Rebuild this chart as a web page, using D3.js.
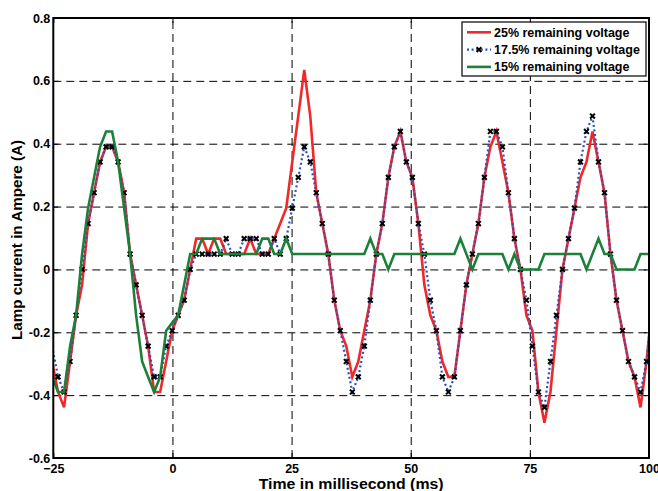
<!DOCTYPE html>
<html>
<head>
<meta charset="utf-8">
<script src="https://cdn.jsdelivr.net/npm/d3@7"></script>
<style>
  body { margin: 0; background: #fff; }
  svg text { font-family: "Liberation Sans", Arial, Helvetica, sans-serif; font-weight: bold; fill: #000; }
</style>
</head>
<body>
<svg id="chart" width="658" height="491"></svg>
<script>
// sample instants (ms) of the recorded waveforms
const timeMs = [-25.26, -24, -22.74, -21.48, -20.22, -18.96, -17.7, -16.44, -15.18, -13.92, -12.66,
  -11.4, -10.14, -8.88, -7.62, -6.36, -5.1, -3.84, -2.58, -1.32, -0.06,
  1.2, 2.46, 3.72, 4.98, 6.24, 7.5, 8.76, 10.02, 11.28, 12.54,
  13.8, 15.06, 16.32, 17.58, 18.84, 20.1, 21.36, 22.62, 23.88, 25.14,
  26.4, 27.66, 28.92, 30.18, 31.44, 32.7, 33.96, 35.22, 36.48, 37.74,
  39, 40.26, 41.52, 42.78, 44.04, 45.3, 46.56, 47.82, 49.08, 50.34,
  51.6, 52.86, 54.12, 55.38, 56.64, 57.9, 59.16, 60.42, 61.68, 62.94,
  64.2, 65.46, 66.72, 67.98, 69.24, 70.5, 71.76, 73.02, 74.28, 75.54,
  76.8, 78.06, 79.32, 80.58, 81.84, 83.1, 84.36, 85.62, 86.88, 88.14,
  89.4, 90.66, 91.92, 93.18, 94.44, 95.7, 96.96, 98.22, 99.48, 100.74];

const seriesNames = ["25% remaining voltage", "17.5% remaining voltage", "15% remaining voltage"];

const current25 = [-0.293, -0.39, -0.439, -0.293, -0.146, -0.049, 0.146, 0.244, 0.342, 0.39, 0.39,
  0.342, 0.244, 0.049, -0.049, -0.146, -0.244, -0.39, -0.39, -0.293, -0.195,
  -0.146, -0.098, 0, 0.098, 0.098, 0.049, 0.098, 0.098, 0.049, 0.049,
  0.049, 0.049, 0.098, 0.049, 0.049, 0.049, 0.098, 0.146, 0.195, 0.342,
  0.488, 0.635, 0.488, 0.244, 0.146, 0.049, -0.098, -0.195, -0.244, -0.342,
  -0.293, -0.195, -0.098, 0.049, 0.146, 0.293, 0.39, 0.439, 0.342, 0.293,
  0.146, -0.049, -0.146, -0.195, -0.293, -0.342, -0.342, -0.195, -0.049, 0.049,
  0.146, 0.293, 0.39, 0.439, 0.342, 0.244, 0.098, 0, -0.146, -0.195,
  -0.39, -0.488, -0.39, -0.195, 0, 0.098, 0.195, 0.293, 0.342, 0.439,
  0.342, 0.244, 0.049, -0.098, -0.195, -0.293, -0.342, -0.439, -0.293, -0.098];

const current175 = [-0.244, -0.342, -0.39, -0.293, -0.146, 0, 0.146, 0.244, 0.342, 0.39, 0.39,
  0.342, 0.244, 0.049, -0.049, -0.146, -0.244, -0.342, -0.342, -0.244, -0.195,
  -0.146, -0.098, 0, 0.049, 0.049, 0.049, 0.049, 0.049, 0.098, 0.049,
  0.049, 0.098, 0.098, 0.098, 0.049, 0.049, 0.098, 0.049, 0.098, 0.195,
  0.293, 0.39, 0.342, 0.244, 0.146, 0.049, -0.098, -0.195, -0.293, -0.39,
  -0.342, -0.244, -0.098, 0.049, 0.146, 0.293, 0.39, 0.439, 0.342, 0.293,
  0.146, 0.049, -0.098, -0.195, -0.342, -0.39, -0.342, -0.195, -0.049, 0.049,
  0.146, 0.293, 0.439, 0.439, 0.39, 0.244, 0.098, 0, -0.098, -0.244,
  -0.39, -0.439, -0.293, -0.146, 0, 0.098, 0.195, 0.342, 0.439, 0.488,
  0.342, 0.244, 0.049, -0.098, -0.195, -0.293, -0.342, -0.39, -0.293, -0.098];

const current15 = [-0.342, -0.39, -0.39, -0.244, -0.146, 0.049, 0.195, 0.293, 0.39, 0.439, 0.439,
  0.342, 0.195, 0.049, -0.146, -0.293, -0.342, -0.39, -0.342, -0.195, -0.17,
  -0.146, -0.049, 0.049, 0.049, 0.098, 0.098, 0.098, 0.049, 0.049, 0.049,
  0.049, 0.049, 0.049, 0.049, 0.098, 0.098, 0.049, 0.049, 0.098, 0.049,
  0.049, 0.049, 0.049, 0.049, 0.049, 0.049, 0.049, 0.049, 0.049, 0.049,
  0.049, 0.049, 0.098, 0.049, 0.049, 0, 0.049, 0.049, 0.049, 0.049,
  0.049, 0.049, 0.049, 0.049, 0.049, 0.049, 0.049, 0.098, 0.049, 0,
  0.049, 0.049, 0.049, 0.049, 0.049, 0, 0.049, 0, 0, 0,
  0, 0.049, 0.049, 0.049, 0.049, 0.049, 0.049, 0.049, 0, 0.049,
  0.098, 0.049, 0.049, 0, 0, 0, 0, 0.049, 0.049, 0.049];

const xTicks = [-25, 0, 25, 50, 75, 100];
const yTicks = [-0.6, -0.4, -0.2, 0, 0.2, 0.4, 0.6, 0.8];
const xTitle = "Time in millisecond (ms)";
const yTitle = "Lamp current in Ampere (A)";

const svg = d3.select("#chart");
const box = { left: 53.3, right: 649, top: 18, bottom: 458 };

const x = d3.scaleLinear().domain([-25, 100]).range([box.left, box.right]);
const y = d3.scaleLinear().domain([-0.6, 0.8]).range([box.bottom, box.top]);

// dashed grid
svg.append("g")
    .attr("transform", "translate(0," + box.bottom + ")")
    .call(d3.axisBottom(x).tickValues(xTicks.slice(1, -1)).tickSize(-(box.bottom - box.top)).tickFormat(""))
    .call(g => g.select(".domain").remove())
    .selectAll("line").attr("stroke", "#000").attr("stroke-dasharray", "8,5");
svg.append("g")
    .attr("transform", "translate(" + box.left + ",0)")
    .call(d3.axisLeft(y).tickValues(yTicks.slice(1, -1)).tickSize(-(box.right - box.left)).tickFormat(""))
    .call(g => g.select(".domain").remove())
    .selectAll("line").attr("stroke", "#000").attr("stroke-dasharray", "8,5");

svg.append("clipPath").attr("id", "plotClip")
  .append("rect")
    .attr("x", box.left).attr("y", box.top)
    .attr("width", box.right - box.left).attr("height", box.bottom - box.top);

const plot = svg.append("g").attr("clip-path", "url(#plotClip)");
const line = d3.line().x((d, i) => x(timeMs[i])).y(d => y(d));

const styles = [
  { data: current25, color: "#f0282a", width: 2.6, dash: null },
  { data: current175, color: "#2b4fbf", width: 2.2, dash: "2,2.6" },
  { data: current15, color: "#1c8039", width: 2.6, dash: null }
];
const xMark = "M-2.4,-2.4L2.4,2.4M-2.4,2.4L2.4,-2.4";

styles.forEach((s, si) => {
  plot.append("path")
    .attr("d", line(s.data))
    .attr("fill", "none")
    .attr("stroke", s.color)
    .attr("stroke-width", s.width)
    .attr("stroke-linejoin", "miter")
    .attr("stroke-dasharray", s.dash);
  if (si === 1) {
    plot.append("g").selectAll("path")
      .data(s.data.filter((d, i) => timeMs[i] >= -25 && timeMs[i] <= 100)
        .map((d, i) => [timeMs[i + 1], d]))
      .enter().append("path")
      .attr("d", xMark)
      .attr("transform", d => "translate(" + x(d[0]) + "," + y(d[1]) + ")")
      .attr("stroke", "#000")
      .attr("stroke-width", 2);
  }
});

// axes: labels and inward ticks
svg.append("g")
    .attr("transform", "translate(0," + box.bottom + ")")
    .call(d3.axisBottom(x).tickValues(xTicks).tickSize(-5).tickPadding(6).tickFormat(d3.format("d")))
    .call(g => g.select(".domain").remove())
    .call(g => g.selectAll("text").attr("font-size", 12.5))
    .call(g => g.selectAll("line").attr("stroke", "#000"));
svg.append("g")
    .attr("transform", "translate(" + box.left + ",0)")
    .call(d3.axisLeft(y).tickValues(yTicks).tickSize(-5).tickPadding(3).tickFormat(d => d === 0 ? "0" : d3.format(".1f")(d).replace("−", "-")))
    .call(g => g.select(".domain").remove())
    .call(g => g.selectAll("text").attr("font-size", 12.5))
    .call(g => g.selectAll("line").attr("stroke", "#000"));
svg.append("g")
    .attr("transform", "translate(0," + box.top + ")")
    .call(d3.axisTop(x).tickValues(xTicks).tickSize(-5).tickFormat(""))
    .call(g => g.select(".domain").remove());
svg.append("g")
    .attr("transform", "translate(" + box.right + ",0)")
    .call(d3.axisRight(y).tickValues(yTicks).tickSize(-5).tickFormat(""))
    .call(g => g.select(".domain").remove());

svg.append("rect")
    .attr("x", box.left).attr("y", box.top)
    .attr("width", box.right - box.left).attr("height", box.bottom - box.top)
    .attr("fill", "none").attr("stroke", "#000").attr("stroke-width", 2);

// titles
svg.append("text")
    .attr("x", (box.left + box.right) / 2).attr("y", 488.5)
    .attr("text-anchor", "middle").attr("font-size", 15)
    .attr("textLength", 185).attr("lengthAdjust", "spacingAndGlyphs")
    .text(xTitle);
svg.append("text")
    .attr("transform", "translate(21.5,240) rotate(-90)")
    .attr("text-anchor", "middle").attr("font-size", 15)
    .attr("textLength", 200).attr("lengthAdjust", "spacingAndGlyphs")
    .text(yTitle);

// legend
const legend = svg.append("g").attr("transform", "translate(462,22)");
legend.append("rect")
    .attr("width", 184).attr("height", 54)
    .attr("fill", "#fff").attr("stroke", "#000").attr("stroke-width", 1.2);
styles.forEach((s, i) => {
  const ly = 10.3 + i * 17.3;
  legend.append("line")
    .attr("x1", 5).attr("x2", 29).attr("y1", ly).attr("y2", ly)
    .attr("stroke", s.color).attr("stroke-width", s.width)
    .attr("stroke-dasharray", s.dash);
  if (i === 1) {
    legend.append("path").attr("d", xMark)
      .attr("transform", "translate(17," + ly + ")")
      .attr("stroke", "#000").attr("stroke-width", 2);
  }
  legend.append("text")
    .attr("x", 32).attr("y", ly + 4.5)
    .attr("font-size", 12.5)
    .text(seriesNames[i]);
});
</script>
</body>
</html>
